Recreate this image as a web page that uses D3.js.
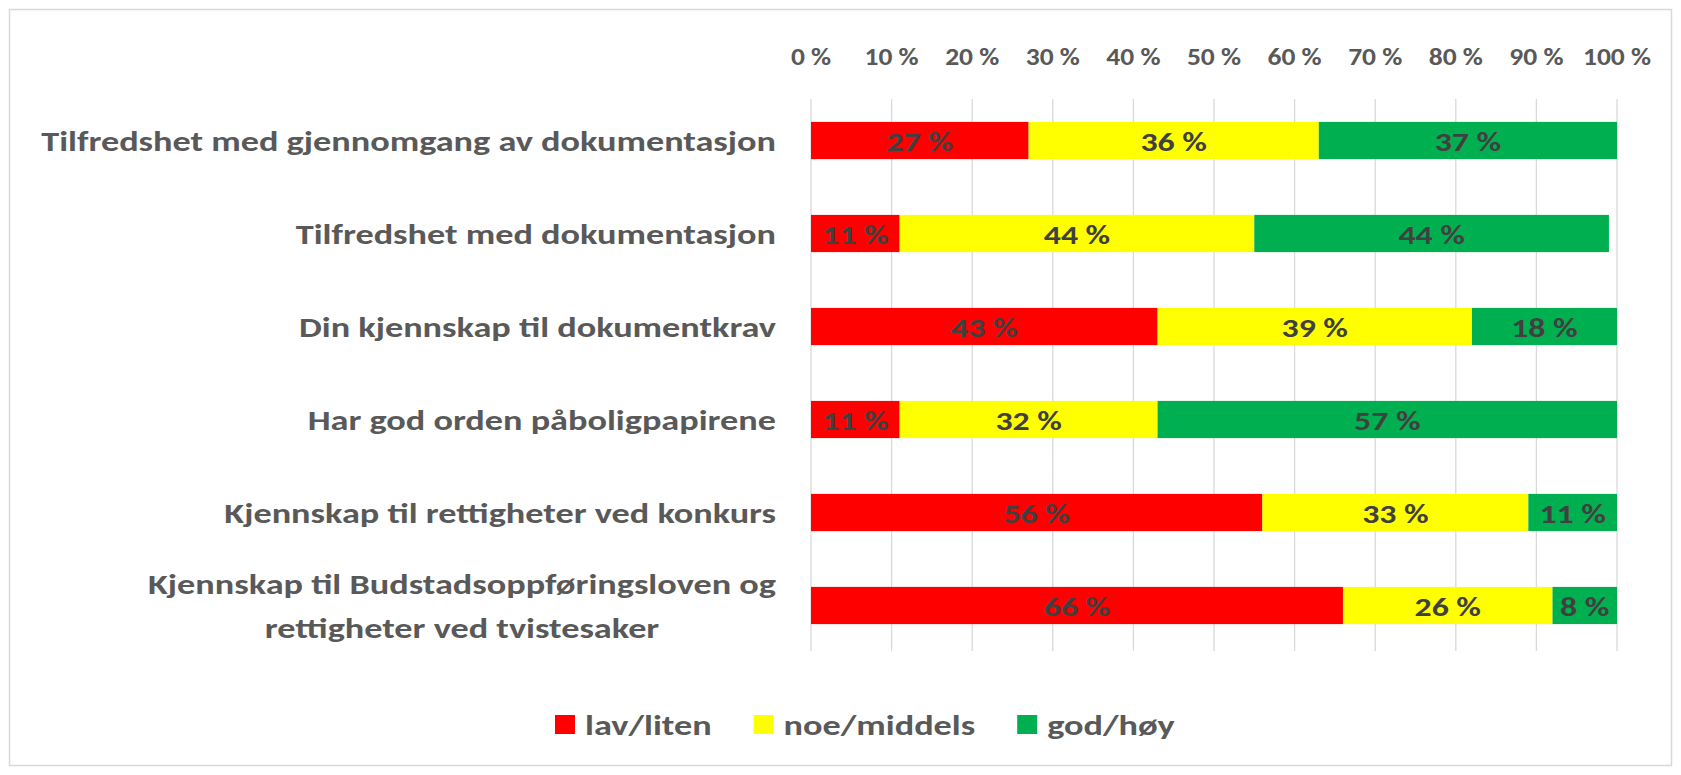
<!DOCTYPE html>
<html>
<head>
<meta charset="utf-8">
<script src="https://cdn.jsdelivr.net/npm/d3@7"></script>
<style>
  html, body { margin: 0; padding: 0; background: #fff; }
  svg { display: block; }
  text { font-family: Carlito, Calibri, Lato, "Open Sans", sans-serif; font-weight: bold; }
</style>
</head>
<body>
<svg id="chart" width="1681" height="775"></svg>
<script>
const categories = [
  "Tilfredshet med gjennomgang av dokumentasjon",
  "Tilfredshet med dokumentasjon",
  "Din kjennskap til dokumentkrav",
  "Har god orden påboligpapirene",
  "Kjennskap til rettigheter ved konkurs",
  "Kjennskap til Budstadsoppføringsloven og|rettigheter ved tvistesaker"
];
const seriesNames = ["lav/liten", "noe/middels", "god/høy"];
const lav = [27, 11, 43, 11, 56, 66];
const noe = [36, 44, 39, 32, 33, 26];
const god = [37, 44, 18, 57, 11, 8];
const tickValues = [0, 10, 20, 30, 40, 50, 60, 70, 80, 90, 100];
const colors = ["#FF0000", "#FFFF00", "#00B050"];

const svg = d3.select("#chart");
const W = 1681, H = 775;
const SX = 1.25;      // horizontal stretch of the reference's text
const SX_TICK = 1.1;

svg.append("rect").attr("x", 9.5).attr("y", 9.5).attr("width", W - 19).attr("height", H - 19)
  .attr("fill", "#fff").attr("stroke", "#D9D9D9").attr("stroke-width", 1.5);

function stext(parent, x, y, str, size, anchor, sx, fill) {
  const g = parent.append("g").attr("transform", `translate(${x},${y}) scale(${sx},1)`);
  const t = g.append("text").attr("x", 0).attr("y", 0).attr("dy", "0.35em")
    .attr("text-anchor", anchor).attr("font-size", size).attr("fill", fill).text(str);
  return t;
}

const x = d3.scaleLinear().domain([0, 100]).range([811, 1617]);
const y = d3.scaleBand().domain(categories).range([94, 652]).paddingInner(0.6).paddingOuter(0.3);

// gridlines
svg.append("g").selectAll("line").data(tickValues).join("line")
  .attr("x1", d => x(d)).attr("x2", d => x(d))
  .attr("y1", 99).attr("y2", 651)
  .attr("stroke", "#D9D9D9").attr("stroke-width", 1.3);

// top tick labels (generated from the scale's ticks)
const fmt = d => d + " %";
const gAxis = svg.append("g");
tickValues.forEach(v => stext(gAxis, x(v), 56, fmt(v), 25, "middle", SX_TICK, "#595959"));

// stacked data
const rows = categories.map((c, i) => ({ cat: c, lav: lav[i], noe: noe[i], god: god[i] }));
const stack = d3.stack().keys(["lav", "noe", "god"])(rows);

const gSeries = svg.append("g").selectAll("g").data(stack).join("g")
  .attr("fill", (d, i) => colors[i]);
gSeries.selectAll("rect").data(d => d).join("rect")
  .attr("x", d => x(d[0]))
  .attr("y", d => y(d.data.cat))
  .attr("width", d => x(d[1]) - x(d[0]))
  .attr("height", y.bandwidth());

const gVals = svg.append("g");
stack.forEach(s => s.forEach(d => {
  stext(gVals, (x(d[0]) + x(d[1])) / 2, y(d.data.cat) + y.bandwidth() / 2 + 1,
    (d[1] - d[0]) + " %", 27, "middle", SX, "#404040");
}));

// category labels (right aligned, multi-line centered)
const labelRight = 776;
const gLab = svg.append("g");
categories.forEach(c => {
  const lines = c.split("|");
  const cy = y(c) + y.bandwidth() / 2;
  const lh = 44;
  const g = gLab.append("g");
  const ts = lines.map((ln, j) =>
    stext(g, 0, cy + (j - (lines.length - 1) / 2) * lh, ln, 29, "middle", SX, "#595959"));
  const maxW = d3.max(ts, t => t.node().getComputedTextLength()) * SX;
  g.attr("transform", `translate(${labelRight - maxW / 2},0)`);
});

// legend
const gLeg = svg.append("g").attr("transform", "translate(0,725)");
let lx = 555;
seriesNames.forEach((n, i) => {
  gLeg.append("rect").attr("x", lx).attr("y", -10).attr("width", 20).attr("height", 19).attr("fill", colors[i]);
  const t = stext(gLeg, lx + 30, 0, n, 29, "start", SX, "#595959");
  lx = lx + 30 + t.node().getComputedTextLength() * SX + 42;
});
</script>
</body>
</html>
